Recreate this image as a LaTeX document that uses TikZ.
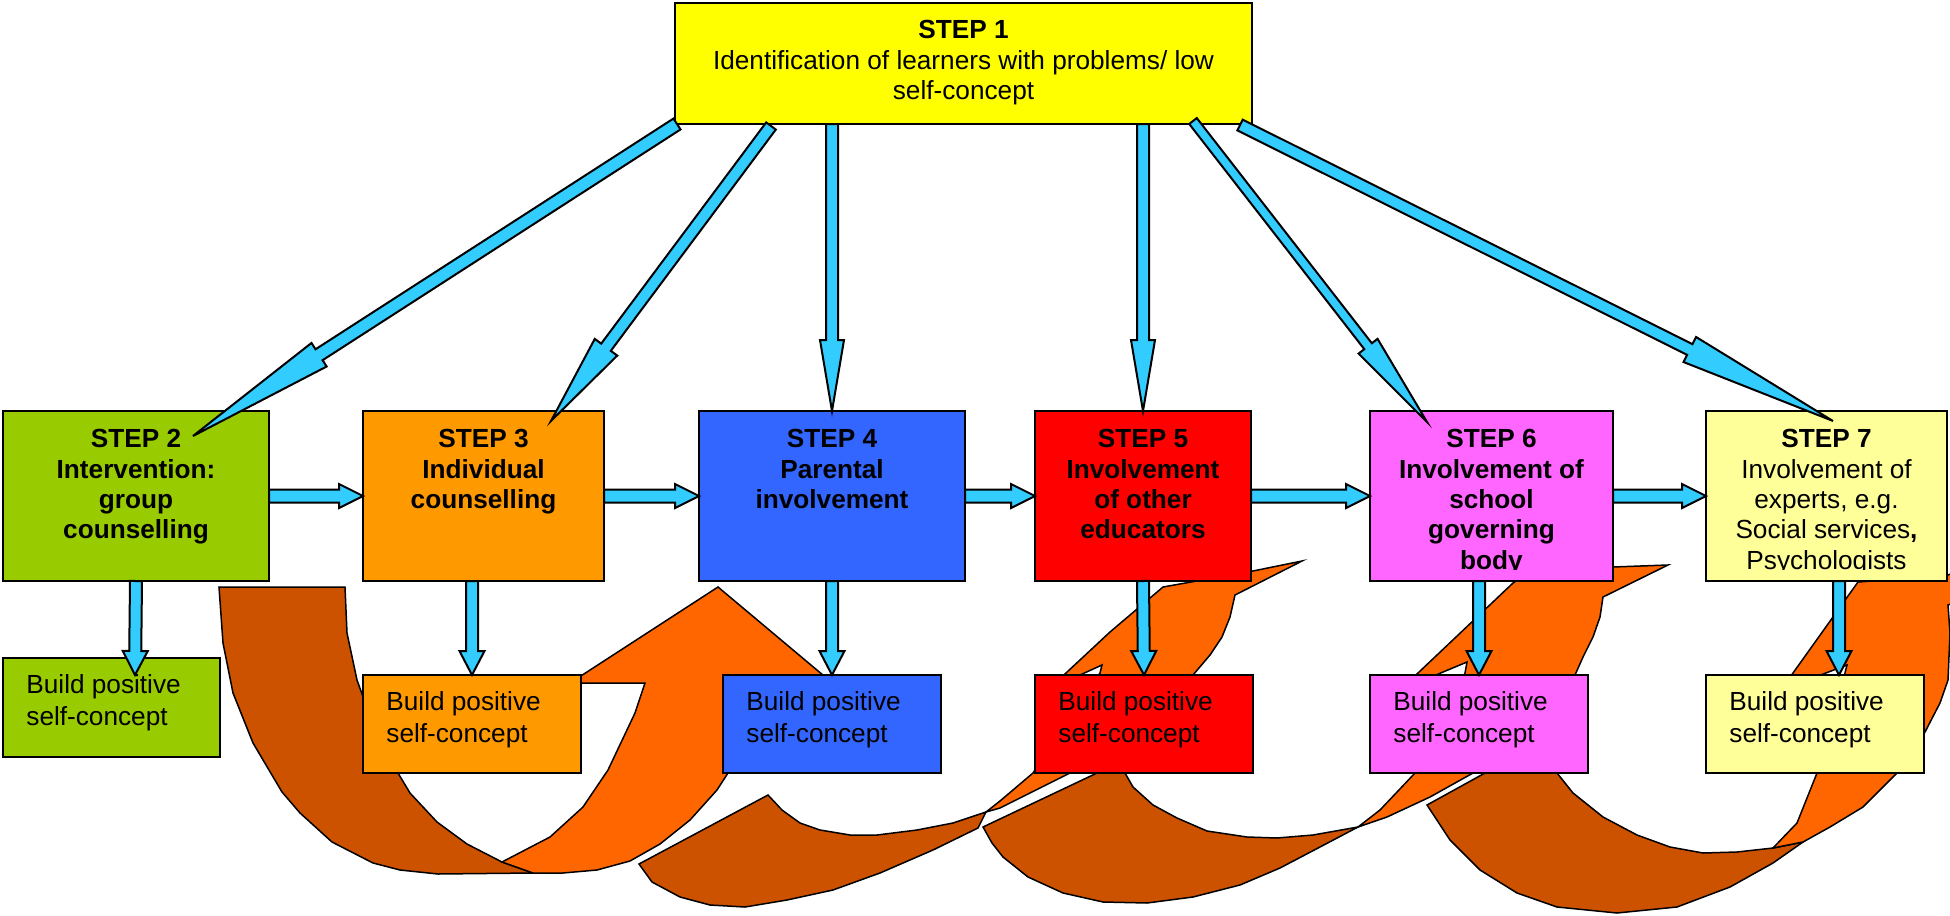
\documentclass[tikz,border=0pt]{standalone}
\usepackage{fontspec}
\setmainfont{Liberation Sans}
\usetikzlibrary{calc}
\definecolor{cone}{HTML}{FFFF00}
\definecolor{ctwo}{HTML}{99CC00}
\definecolor{cthree}{HTML}{FF9900}
\definecolor{cfour}{HTML}{3366FF}
\definecolor{cfive}{HTML}{FF0000}
\definecolor{csix}{HTML}{FF66FF}
\definecolor{cseven}{HTML}{FFFF99}
\definecolor{arrowblue}{HTML}{33CCFF}
\definecolor{darkor}{HTML}{CC5200}
\definecolor{lightor}{HTML}{FF6600}

% block arrow: #1 tail, #2 tip, #3 shaft half width, #4 head half width, #5 head length
\newcommand{\blockarrow}[5]{%
  \draw[bluearrow] let \p1=(#1), \p2=(#2),
      \n1={atan2(\y2-\y1,\x2-\x1)}, \n2={veclen(\x2-\x1,\y2-\y1)-#5} in
    ($(\p1)+(\n1+90:#3)$) --
    ($(\p1)+(\n1:{\n2*1pt})+(\n1+90:#3)$) --
    ($(\p1)+(\n1:{\n2*1pt})+(\n1+90:#4)$) --
    (\p2) --
    ($(\p1)+(\n1:{\n2*1pt})+(\n1-90:#4)$) --
    ($(\p1)+(\n1:{\n2*1pt})+(\n1-90:#3)$) --
    ($(\p1)+(\n1-90:#3)$) -- cycle;}

\begin{document}
\begin{tikzpicture}[x=0.5pt,y=-0.5pt,
  box/.style={draw=black, line width=1.25pt, inner sep=0pt, outer sep=0pt, anchor=north west},
  stepbox/.style={box, minimum height=85pt},
  buildbox/.style={box, minimum width=109pt, minimum height=49pt},
  steptext/.style={inner sep=0pt, align=center, anchor=north, font=\fontsize{13.1}{15.2}\selectfont},
  boldtext/.style={steptext, font=\fontsize{13.1}{15.2}\selectfont\bfseries},
  buildtext/.style={inner sep=0pt, align=left, anchor=north west, font=\fontsize{13.1}{16}\selectfont},
  bluearrow/.style={draw=black, line width=1pt, fill=arrowblue, line join=miter},
  backband/.style={draw=black, line width=0.75pt, fill=darkor},
  frontband/.style={draw=black, line width=0.75pt, fill=lightor}]
\useasboundingbox (0,0) rectangle (1950,916);

% ---------- curved orange arrows ----------
\begin{scope}
\clip (0,0) rectangle (1950,916);
% A
\draw[backband] (219,587) -- (345,587) -- (347,633) -- (357,680) -- (375,730) -- (398,773) -- (410,793) -- (437,822) -- (467,844) -- (502,862) -- (533,873) -- (438,874) -- (400,870) -- (373,863) -- (332,842) -- (300,813) -- (282,792) -- (253,743) -- (233,693) -- (223,643) -- cycle;
\draw[frontband] (502,862) -- (550,837) -- (583,807) -- (608,770) -- (635,713) -- (645,683) -- (570,683) -- (718,587) -- (830,681) -- (770,690) -- (745,740) -- (728,773) -- (717,790) -- (690,820) -- (660,844) -- (630,861) -- (597,870) -- (563,873) -- (533,873) -- cycle;
% B
\draw[backband] (639,864) -- (768,795) -- (782,810) -- (800,823) -- (820,830) -- (850,835) -- (877,835) -- (917,830) -- (953,823) -- (986,812) -- (978,828) -- (933,850) -- (880,873) -- (833,890) -- (787,900) -- (745,907) -- (710,905) -- (680,897) -- (652,882) -- cycle;
\draw[frontband] (986,812) -- (1000,801) -- (1033,773) -- (1100,673) -- (1102,665) -- (1047,690) -- (1066,673) -- (1110,632) -- (1163,587) -- (1253,571) -- (1302,561) -- (1235,595) -- (1230,617) -- (1222,637) -- (1210,655) -- (1193,675) -- (1070,773) -- (1000,808) -- cycle;
% C
\draw[backband] (983,827) -- (1097,773) -- (1120,760) -- (1125,773) -- (1133,787) -- (1153,805) -- (1177,818) -- (1207,831) -- (1247,837) -- (1277,838) -- (1313,835) -- (1358,827) -- (1320,847) -- (1280,868) -- (1240,885) -- (1193,897) -- (1147,903) -- (1103,902) -- (1063,893) -- (1028,877) -- (1003,857) -- (992,843) -- cycle;
\draw[frontband] (1358,827) -- (1380,810) -- (1415,773) -- (1440,720) -- (1465,673) -- (1467,662) -- (1400,690) -- (1418,673) -- (1513,583) -- (1530,572) -- (1613,567) -- (1668,565) -- (1603,597) -- (1600,617) -- (1593,637) -- (1583,657) -- (1575,675) -- (1530,730) -- (1473,773) -- (1430,797) -- (1387,817) -- cycle;
% D
\draw[backband] (1427,805) -- (1485,773) -- (1545,758) -- (1557,773) -- (1573,793) -- (1603,817) -- (1637,835) -- (1670,847) -- (1703,853) -- (1737,852) -- (1773,848) -- (1803,842) -- (1773,863) -- (1730,887) -- (1677,907) -- (1617,913) -- (1557,907) -- (1517,893) -- (1480,870) -- (1450,840) -- cycle;
\draw[frontband] (1773,848) -- (1797,823) -- (1817,773) -- (1835,720) -- (1845,673) -- (1847,665) -- (1781,690) -- (1793,673) -- (1858,582) -- (1945,576) -- (1962,570) -- (1962,600) -- (1948,605) -- (1950,633) -- (1948,680) -- (1940,703) -- (1925,732) -- (1910,755) -- (1897,773) -- (1863,807) -- (1830,827) -- (1803,842) -- cycle;
\end{scope}

% ---------- boxes ----------
\node[box, fill=cone, minimum width=288.5pt, minimum height=60.5pt] (s1) at (675,3) {};
\node[stepbox, fill=ctwo, minimum width=133pt] (s2) at (3,411) {};
\node[stepbox, fill=cthree, minimum width=120.5pt] (s3) at (363,411) {};
\node[stepbox, fill=cfour, minimum width=133pt] (s4) at (699,411) {};
\node[stepbox, fill=cfive, minimum width=108pt] (s5) at (1035,411) {};
\node[stepbox, fill=csix, minimum width=121.5pt] (s6) at (1370,411) {};
\node[stepbox, fill=cseven, minimum width=120.5pt] (s7) at (1706,411) {};

\node[buildbox, fill=ctwo, minimum width=108.5pt, minimum height=49.5pt] (b2) at (3,658) {};
\node[buildbox, fill=cthree] (b3) at (363,675) {};
\node[buildbox, fill=cfour] (b4) at (723,675) {};
\node[buildbox, fill=cfive] (b5) at (1035,675) {};
\node[buildbox, fill=csix] (b6) at (1370,675) {};
\node[buildbox, fill=cseven] (b7) at (1706,675) {};

% ---------- texts ----------
\node[steptext] (s1t) at ($(s1.north)+(0,17)$) {\textbf{STEP 1}\\Identification of learners with problems/ low\\self-concept};
\node[boldtext] (s2t) at ($(s2.north)+(0,18)$) {STEP 2\\Intervention:\\group\\counselling};
\node[boldtext] (s3t) at ($(s3.north)+(0,18)$) {STEP 3\\Individual\\counselling};
\node[boldtext] (s4t) at ($(s4.north)+(0,18)$) {STEP 4\\Parental\\involvement};
\node[boldtext] (s5t) at ($(s5.north)+(0,18)$) {STEP 5\\Involvement\\of other\\educators};
\begin{scope}
\clip (s6.north west) rectangle ($(s6.south east)+(0,-12)$);
\node[boldtext] (s6t) at ($(s6.north)+(0,18)$) {STEP 6\\Involvement of\\school\\governing\\body};
\end{scope}
\begin{scope}
\clip (s7.north west) rectangle ($(s7.south east)+(0,-12)$);
\node[steptext] (s7t) at ($(s7.north)+(0,18)$) {\textbf{STEP 7}\\Involvement of\\experts, e.g.\\Social services\textbf{,}\\Psychologists};
\end{scope}

\foreach \b in {b2,b3,b4,b5,b6,b7}{
  \node[buildtext] (\b t) at ($(\b.north west)+(23,16)$) {Build positive\\self-concept};
}

% ---------- blue arrows ----------
\blockarrow{$(s1.south west)+(2,0)$}{$(s2.north west)+(190,25)$}{3.25pt}{7pt}{75pt}
\blockarrow{$(s1.south west)+(96,2)$}{$(s3.north west)+(188,10)$}{3pt}{7pt}{46pt}
\blockarrow{s1.south -| s4.north}{s4.north}{3pt}{6pt}{35.5pt}
\blockarrow{s1.south -| s5.north}{s5.north}{3pt}{6pt}{35.5pt}
\blockarrow{$(s1.south west)+(518,-3)$}{$(s6.north west)+(57,11)$}{2.4pt}{6pt}{48pt}
\blockarrow{$(s1.south west)+(565,1)$}{$(s7.north west)+(127,10)$}{3pt}{7pt}{80pt}

\blockarrow{s2.east}{s3.west}{3.25pt}{6pt}{12pt}
\blockarrow{s3.east}{s4.west}{3.25pt}{6pt}{12pt}
\blockarrow{s4.east}{s5.west}{3.25pt}{6pt}{12pt}
\blockarrow{s5.east}{s6.west}{3.25pt}{6pt}{12pt}
\blockarrow{s6.east}{s7.west}{3.25pt}{6pt}{12pt}

\blockarrow{s2.south}{$(b2.north west)+(132,17)$}{3pt}{6.25pt}{12pt}
\blockarrow{b3.north |- s3.south}{b3.north}{3pt}{6.25pt}{12pt}
\blockarrow{s4.south}{b4.north}{3pt}{6.25pt}{12pt}
\blockarrow{s5.south}{b5.north}{3pt}{6.25pt}{12pt}
\blockarrow{b6.north |- s6.south}{b6.north}{3pt}{6.25pt}{12pt}
\blockarrow{$(s7.south west)+(133,0)$}{$(b7.north west)+(133,0)$}{3pt}{6.25pt}{12pt}
\end{tikzpicture}
\end{document}
